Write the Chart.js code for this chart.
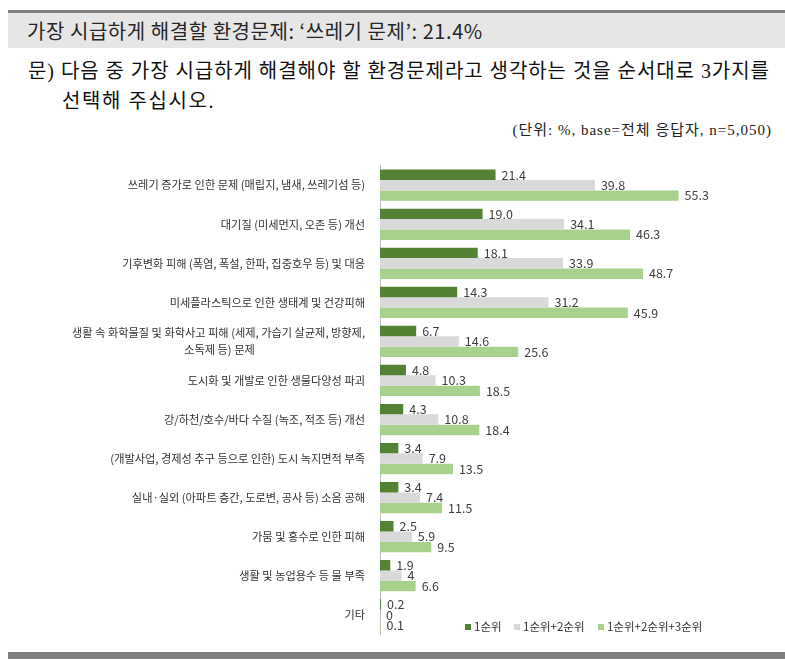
<!DOCTYPE html>
<html><head><meta charset="utf-8">
<script src="https://cdn.jsdelivr.net/npm/chart.js@4.4.1/dist/chart.umd.min.js"></script>
<style>
html,body{margin:0;padding:0;background:#fff;}
body{width:785px;height:669px;position:relative;overflow:hidden;font-family:"Noto Sans CJK KR",sans-serif;}
#topline{position:absolute;left:8px;top:10px;width:777px;height:3px;background:#808080;}
#band{position:absolute;left:8px;top:13px;width:777px;height:35px;background:#e6e6e6;}
#title{position:absolute;left:27px;top:13px;height:35px;line-height:35px;font-size:20px;letter-spacing:0.55px;color:#262626;white-space:nowrap;}
.q{position:absolute;font-family:"Liberation Serif","Noto Sans CJK KR",serif;font-size:20px;letter-spacing:0.95px;color:#111;white-space:nowrap;}
#q1{left:28px;top:55px;}
#q2{left:62px;top:85px;letter-spacing:1.6px;}
#note{position:absolute;right:13px;top:118px;font-family:"Liberation Serif","Noto Sans CJK KR",serif;font-size:15px;letter-spacing:1px;color:#222;white-space:nowrap;}
#chartbox{position:absolute;left:0;top:150px;width:785px;height:500px;}
#bottombar{position:absolute;left:8px;top:652px;width:777px;height:7px;background:#7f7f7f;}
.lg{position:absolute;top:617px;font-size:11.5px;color:#333;white-space:nowrap;line-height:18px;}
.lg i{display:inline-block;width:6px;height:6px;margin-right:3px;vertical-align:middle;position:relative;top:-1px;}
</style>
</head><body>
<div id="topline"></div>
<div id="band"></div>
<div id="title">가장 시급하게 해결할 환경문제: ‘쓰레기 문제’: 21.4%</div>
<div class="q" id="q1">문) 다음 중 가장 시급하게 해결해야 할 환경문제라고 생각하는 것을 순서대로 3가지를</div>
<div class="q" id="q2">선택해 주십시오.</div>
<div id="note">(단위: %, base=전체 응답자, n=5,050)</div>
<div id="chartbox"><canvas id="c"></canvas></div>
<div id="bottombar"></div>
<div id="legend"></div>
<script>
const categories = [
  ["쓰레기 증가로 인한 문제 (매립지, 냄새, 쓰레기섬 등)"],
  ["대기질 (미세먼지, 오존 등) 개선"],
  ["기후변화 피해 (폭염, 폭설, 한파, 집중호우 등) 및 대응"],
  ["미세플라스틱으로 인한 생태계 및 건강피해"],
  ["생활 속 화학물질 및 화학사고 피해 (세제, 가습기 살균제, 방향제,", "소독제 등) 문제"],
  ["도시화 및 개발로 인한 생물다양성 파괴"],
  ["강/하천/호수/바다 수질 (녹조, 적조 등) 개선"],
  ["(개발사업, 경제성 추구 등으로 인한) 도시 녹지면적 부족"],
  ["실내·실외 (아파트 층간, 도로변, 공사 등) 소음 공해"],
  ["가뭄 및 홍수로 인한 피해"],
  ["생활 및 농업용수 등 물 부족"],
  ["기타"]
];
const seriesNames = ["1순위", "1순위+2순위", "1순위+2순위+3순위"];
const rank1 = [21.4, 19.0, 18.1, 14.3, 6.7, 4.8, 4.3, 3.4, 3.4, 2.5, 1.9, 0.2];
const rank12 = [39.8, 34.1, 33.9, 31.2, 14.6, 10.3, 10.8, 7.9, 7.4, 5.9, 4, 0];
const rank123 = [55.3, 46.3, 48.7, 45.9, 25.6, 18.5, 18.4, 13.5, 11.5, 9.5, 6.6, 0.1];
const colors = ["#548235", "#d9d9d9", "#a9d18e"];

const TICK_FONT = '11.2px "Noto Sans CJK KR"';
const mctx = document.createElement('canvas').getContext('2d');
mctx.font = TICK_FONT;
// center-align continuation lines under the first line (right-aligned axis labels)
const tickLabels = categories.map(lines => {
  if (lines.length === 1) return lines[0];
  const w0 = mctx.measureText(lines[0]).width;
  const sp = mctx.measureText(' ').width;
  return lines.map((l, k) => {
    if (k === 0) return l;
    const diff = (w0 - mctx.measureText(l).width) / 2;
    return l + ' '.repeat(Math.max(0, Math.round(diff / sp)));
  });
});

function fmt(v) { return (Number.isInteger(v) && v < 10) ? String(v) : v.toFixed(1); }

const valueLabels = {
  id: 'valueLabels',
  afterDatasetsDraw(chart) {
    const ctx = chart.ctx;
    ctx.save();
    ctx.font = '12.5px "Noto Sans CJK KR"';
    ctx.fillStyle = '#404040';
    ctx.textBaseline = 'middle';
    ctx.textAlign = 'left';
    chart.data.datasets.forEach((ds, i) => {
      chart.getDatasetMeta(i).data.forEach((bar, j) => {
        ctx.fillText(fmt(ds.data[j]), bar.x + 6, bar.y);
      });
    });
    ctx.restore();
  }
};

new Chart(document.getElementById('c'), {
  type: 'bar',
  data: {
    labels: tickLabels,
    datasets: [
      { label: seriesNames[0], data: rank1, backgroundColor: colors[0] },
      { label: seriesNames[1], data: rank12, backgroundColor: colors[1] },
      { label: seriesNames[2], data: rank123, backgroundColor: colors[2] }
    ]
  },
  options: {
    indexAxis: 'y',
    responsive: true,
    maintainAspectRatio: false,
    animation: false,
    devicePixelRatio: 1,
    layout: { padding: { top: 7.7, bottom: 5, left: 0, right: 27 } },
    datasets: { bar: { categoryPercentage: 0.8, barPercentage: 1.0, borderWidth: 0 } },
    plugins: { legend: { display: false }, tooltip: { enabled: false } },
    scales: {
      x: { display: false, min: 0, max: 70 },
      y: {
        afterFit(s) { s.width = 380; },
        grid: { display: false },
        border: { display: true, color: '#bfbfbf', width: 1 },
        ticks: { font: { family: 'Noto Sans CJK KR', size: 11.2, lineHeight: 1.55 }, color: '#333', padding: 7, autoSkip: false }
      }
    }
  },
  plugins: [valueLabels]
});

const lgPos = [465, 514, 598];
const lg = document.getElementById('legend');
seriesNames.forEach((n, i) => {
  const d = document.createElement('div');
  d.className = 'lg';
  d.style.left = lgPos[i] + 'px';
  d.innerHTML = '<i style="background:' + colors[i] + '"></i>' + n;
  lg.appendChild(d);
});
</script>
</body></html>
